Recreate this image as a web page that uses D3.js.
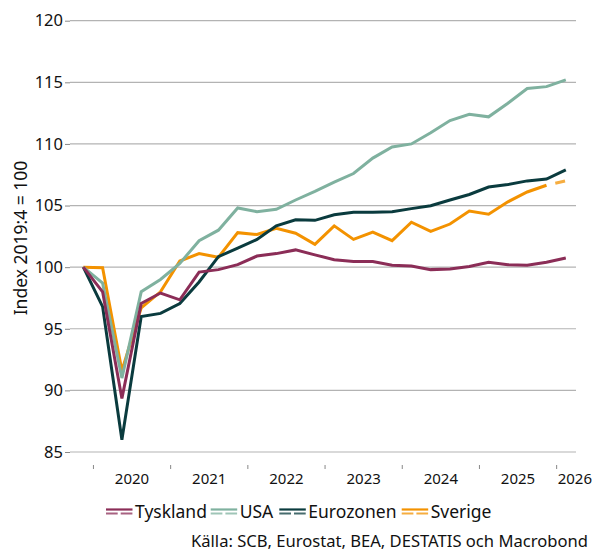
<!DOCTYPE html>
<html>
<head>
<meta charset="utf-8">
<script src="https://cdn.jsdelivr.net/npm/d3@7"></script>
<style>
  body { margin: 0; background: #fff; }
  svg { font-family: "Noto Sans", "Open Sans", sans-serif; }
</style>
</head>
<body>
<svg id="chart" width="594" height="551"></svg>
<script>
// quarters, 2019:4 .. 2026:1 (plotted at mid-quarter)
const quarters = ["2019:4","2020:1","2020:2","2020:3","2020:4","2021:1","2021:2","2021:3","2021:4",
  "2022:1","2022:2","2022:3","2022:4","2023:1","2023:2","2023:3","2023:4","2024:1","2024:2",
  "2024:3","2024:4","2025:1","2025:2","2025:3","2025:4","2026:1"];

const tyskland = [100, 98.0, 89.35, 97.05, 97.9, 97.35, 99.6, 99.8, 100.2, 100.9, 101.1, 101.4, 101.0,
  100.6, 100.45, 100.45, 100.15, 100.1, 99.8, 99.85, 100.05, 100.4, 100.2, 100.15, 100.4, 100.75];
const usa = [100, 98.7, 91.0, 98.0, 99.0, 100.3, 102.15, 103.0, 104.8, 104.5, 104.7, 105.45, 106.15,
  106.9, 107.6, 108.85, 109.75, 110.0, 110.9, 111.9, 112.4, 112.2, 113.3, 114.5, 114.65, 115.2];
const eurozonen = [100, 96.8, 86.0, 96.0, 96.25, 97.05, 98.8, 100.85, 101.55, 102.25, 103.35, 103.85, 103.8,
  104.25, 104.45, 104.45, 104.5, 104.75, 104.98, 105.45, 105.9, 106.5, 106.7, 107.0, 107.15, 107.9];
const sverige = [100, 99.95, 91.6, 96.7, 98.0, 100.5, 101.1, 100.8, 102.8, 102.65, 103.15, 102.75, 101.85,
  103.35, 102.25, 102.85, 102.15, 103.65, 102.9, 103.5, 104.55, 104.3, 105.3, 106.1, 106.65, 107.0];
// Sverige is a forecast from 2025:4 onwards (dashed)
const sverigeForecastFrom = "2025:4";

const yTicks = [85, 90, 95, 100, 105, 110, 115, 120];
const yearLabels = [2020, 2021, 2022, 2023, 2024, 2025, 2026];
const yTitle = "Index 2019:4 = 100";
const source = "Källa: SCB, Eurostat, BEA, DESTATIS och Macrobond";

const series = [
  { name: "Tyskland", values: tyskland, color: "#8b2d57" },
  { name: "USA", values: usa, color: "#7fb19f" },
  { name: "Eurozonen", values: eurozonen, color: "#0a3b3e" },
  { name: "Sverige", values: sverige, color: "#f39200", forecastFrom: sverigeForecastFrom }
];

// quarter label -> decimal year at mid-quarter
const qTime = q => { const [y, n] = q.split(":").map(Number); return y + (n - 0.5) / 4; };

const svg = d3.select("#chart");

const x = d3.scaleLinear()
  .domain([qTime("2019:4"), qTime("2026:1")])
  .range([83.3, 565.8]);

const y = d3.scaleLinear()
  .domain([85, 120])
  .range([452, 20.7]);

const plotLeft = 70, plotRight = 576;

// gridlines
svg.append("g")
  .selectAll("line")
  .data(yTicks)
  .join("line")
  .attr("x1", plotLeft)
  .attr("x2", plotRight)
  .attr("y1", d => y(d))
  .attr("y2", d => y(d))
  .attr("stroke", "#b3b3b3")
  .attr("stroke-width", 1.2);

// y axis
const yAxis = svg.append("g")
  .attr("transform", `translate(${plotLeft},0)`)
  .call(d3.axisLeft(y).tickValues(yTicks).tickSize(5).tickPadding(2));
yAxis.select(".domain").remove();
yAxis.selectAll(".tick line").attr("stroke", "#888");
yAxis.selectAll("text")
  .attr("font-size", 16.5)
  .attr("font-family", "Noto Sans")
  .attr("fill", "#111");

// x axis: ticks at year boundaries, labels at mid-year
const xAxis = svg.append("g")
  .attr("transform", "translate(0,465)")
  .call(d3.axisBottom(x).tickValues(yearLabels).tickSize(4).tickFormat(d3.format("d")));
xAxis.select(".domain").remove();
xAxis.selectAll(".tick line").attr("stroke", "#888");
xAxis.selectAll(".tick text")
  .attr("font-size", 15)
  .attr("font-family", "Noto Sans")
  .attr("fill", "#111")
  .attr("y", 19)
  .attr("dy", 0)
  .each(function(d) {
    const t = d3.select(this);
    if (d === yearLabels[yearLabels.length - 1]) {
      // last year has only one quarter: label starts at the tick
      t.attr("text-anchor", "start").attr("x", 1);
    } else {
      t.attr("x", x(d + 0.5) - x(d));
    }
  });

// y title
svg.append("text")
  .attr("transform", "translate(27,238) rotate(-90)")
  .attr("text-anchor", "middle")
  .attr("font-size", 17.5)
  .attr("fill", "#111")
  .text(yTitle);

// lines
const line = d3.line()
  .x(d => x(qTime(d.q)))
  .y(d => y(d.v));

const lightColor = c => d3.interpolateRgb(c, "#fff")(0.25);

series.slice().reverse().forEach(s => {
  const pts = quarters.map((q, i) => ({ q, v: s.values[i] }));
  let solid = pts, dashed = null;
  if (s.forecastFrom) {
    const k = quarters.indexOf(s.forecastFrom);
    solid = pts.slice(0, k + 1);
    dashed = pts.slice(k);
  }
  svg.append("path")
    .datum(solid)
    .attr("d", line)
    .attr("fill", "none")
    .attr("stroke", s.color)
    .attr("stroke-width", 3);
  if (dashed) {
    svg.append("path")
      .datum(dashed)
      .attr("d", line)
      .attr("fill", "none")
      .attr("stroke", lightColor(s.color))
      .attr("stroke-width", 3)
      .attr("stroke-dasharray", "10 9")
      .attr("stroke-dashoffset", 10);
  }
});

// legend
const legendX = [106, 210.7, 279.3, 401.7];
const legend = svg.append("g").attr("transform", "translate(0,511)");
series.forEach((s, i) => {
  const g = legend.append("g").attr("transform", `translate(${legendX[i]},0)`);
  g.append("line")
    .attr("x1", 0).attr("x2", 26.5).attr("y1", -1.5).attr("y2", -1.5)
    .attr("stroke", s.color).attr("stroke-width", 2.2);
  g.append("line")
    .attr("x1", 0).attr("x2", 26.5).attr("y1", 2.5).attr("y2", 2.5)
    .attr("stroke", lightColor(s.color)).attr("stroke-width", 2.2)
    .attr("stroke-dasharray", "11.7 3");
  g.append("text")
    .attr("x", 29)
    .attr("y", 6.5)
    .attr("font-size", 17.5)
    .attr("fill", "#111")
    .text(s.name);
});

// source
svg.append("text")
  .attr("x", 588)
  .attr("y", 547)
  .attr("text-anchor", "end")
  .attr("font-size", 16.6)
  .attr("fill", "#111")
  .text(source);
</script>
</body>
</html>
